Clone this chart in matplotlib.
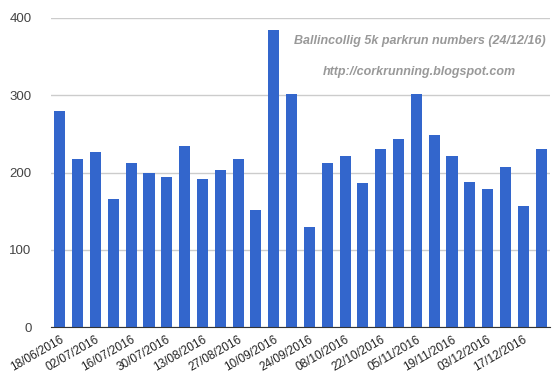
import matplotlib
matplotlib.use('Agg')
import matplotlib.pyplot as plt
import numpy as np

plt.rcParams['font.family'] = ['Liberation Sans', 'DejaVu Sans']

dates = ['18/06/2016', '25/06/2016', '02/07/2016', '09/07/2016', '16/07/2016',
         '23/07/2016', '30/07/2016', '06/08/2016', '13/08/2016', '20/08/2016',
         '27/08/2016', '03/09/2016', '10/09/2016', '17/09/2016', '24/09/2016',
         '01/10/2016', '08/10/2016', '15/10/2016', '22/10/2016', '29/10/2016',
         '05/11/2016', '12/11/2016', '19/11/2016', '26/11/2016', '03/12/2016',
         '10/12/2016', '17/12/2016', '24/12/2016']
runners = [279, 217, 226, 166, 212, 199, 194, 234, 191, 203, 218, 151, 384, 301,
           130, 212, 221, 186, 230, 244, 301, 248, 221, 188, 178, 207, 156, 230]

fig = plt.figure(figsize=(5.59, 3.83), dpi=100)
ax = fig.add_axes([51/559, 1-327/383, 499/559, 309/383])

x = np.arange(len(dates))
ax.bar(x, runners, width=0.62, color='#3366cc', zorder=2)

ax.set_xlim(-0.5, len(dates) - 0.5)
ax.set_ylim(0, 400)
ax.set_yticks([0, 100, 200, 300, 400])
ax.yaxis.grid(True, color='#cccccc', linewidth=1, zorder=0)
for s in ['top', 'right', 'left']:
    ax.spines[s].set_visible(False)
ax.spines['bottom'].set_color('#333333')
ax.tick_params(axis='y', length=0, pad=14, labelsize=9.5, labelcolor='#444444')
ax.tick_params(axis='x', length=0, pad=5)
ax.set_xticks(x[::2])
ax.set_xticklabels(dates[::2], rotation=30, ha='right', rotation_mode='anchor',
                   fontsize=8.5, color='#222222')

ax.text(0.739, 0.925, 'Ballincollig 5k parkrun numbers (24/12/16)', transform=ax.transAxes,
        ha='center', va='center', fontsize=9, color='#999999', style='italic', weight='bold')
ax.text(0.739, 0.825, 'http://corkrunning.blogspot.com', transform=ax.transAxes,
        ha='center', va='center', fontsize=9, color='#999999', style='italic', weight='bold')

fig.savefig('out.png', dpi=100)
